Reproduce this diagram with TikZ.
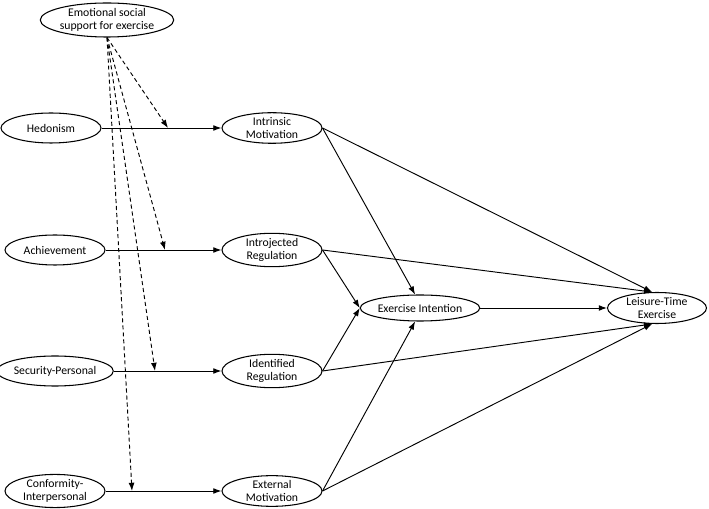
\documentclass[tikz,border=0pt]{standalone}
\usepackage{fontspec}
\setmainfont{Carlito}
\usetikzlibrary{arrows.meta,positioning,shapes.geometric,calc}

\begin{document}
\begin{tikzpicture}[
    var/.style={ellipse, draw, line width=0.9pt, inner sep=0pt, minimum width=3cm,
      minimum height=0.9cm, align=center, font=\fontsize{10}{11.5}\selectfont},
    arr/.style={-{Latex[length=7pt,width=5pt]}, line width=0.8pt},
    mod/.style={arr, dashed, dash pattern=on 3.5pt off 2.5pt}
  ]
    \useasboundingbox (0,0) rectangle (21.27,15.27);

    % moderator
    \node[var, minimum width=3.27cm, minimum height=1.02cm] (emo) at (3.21,14.67) {Emotional social\\support for exercise};

    % values
    \node[var] (hed) at (1.53,11.43) {Hedonism};
    \node[var] (ach) at (1.65,7.77)  {Achievement};
    \node[var] (sec) at (1.65,4.14)  {Security-Personal};
    \node[var, minimum height=0.96cm] (con) at (1.65,0.54) {Conformity-\\Interpersonal};

    % motivation
    \node[var] (intr)  at (8.16,11.43) {Intrinsic\\Motivation};
    \node[var] (intro) at (8.16,7.77)  {Introjected\\Regulation};
    \node[var] (iden)  at (8.16,4.14)  {Identified\\Regulation};
    \node[var] (ext)   at (8.16,0.54)  {External\\Motivation};

    % outcomes
    \node[var, minimum height=0.78cm] (ei) at (12.6,6.03) {Exercise Intention};
    \node[var, minimum width=2.97cm, minimum height=0.93cm] (lte) at (19.71,6.03) {Leisure-Time\\Exercise};

    \draw[arr] (hed)  -- (intr);
    \draw[arr] (ach)  -- (intro);
    \draw[arr] (sec)  -- (iden);
    \draw[arr] (con)  -- (ext);

    % moderation points
    \coordinate (m1) at (5.04,11.43);
    \coordinate (m2) at (4.95,7.77);
    \coordinate (m3) at (4.65,4.14);
    \coordinate (m4) at (3.96,0.54);
    \foreach \m in {m1,m2,m3,m4}
      \draw[mod] (emo.south) -- (\m);

    \draw[arr] (intr.east)  -- (ei.110);
    \draw[arr] (intro.east) -- (ei.west);
    \draw[arr] (iden.east)  -- (ei.west);
    \draw[arr] (ext.east)   -- (ei.250);

    \draw[arr] (intr.east)  -- (lte.107);
    \draw[arr] (intro.east) -- (lte.107);
    \draw[arr] (iden.east)  -- (lte.253);
    \draw[arr] (ext.east)   -- (lte.253);
    \draw[arr] (ei) -- (lte);
  \end{tikzpicture}
\end{document}
